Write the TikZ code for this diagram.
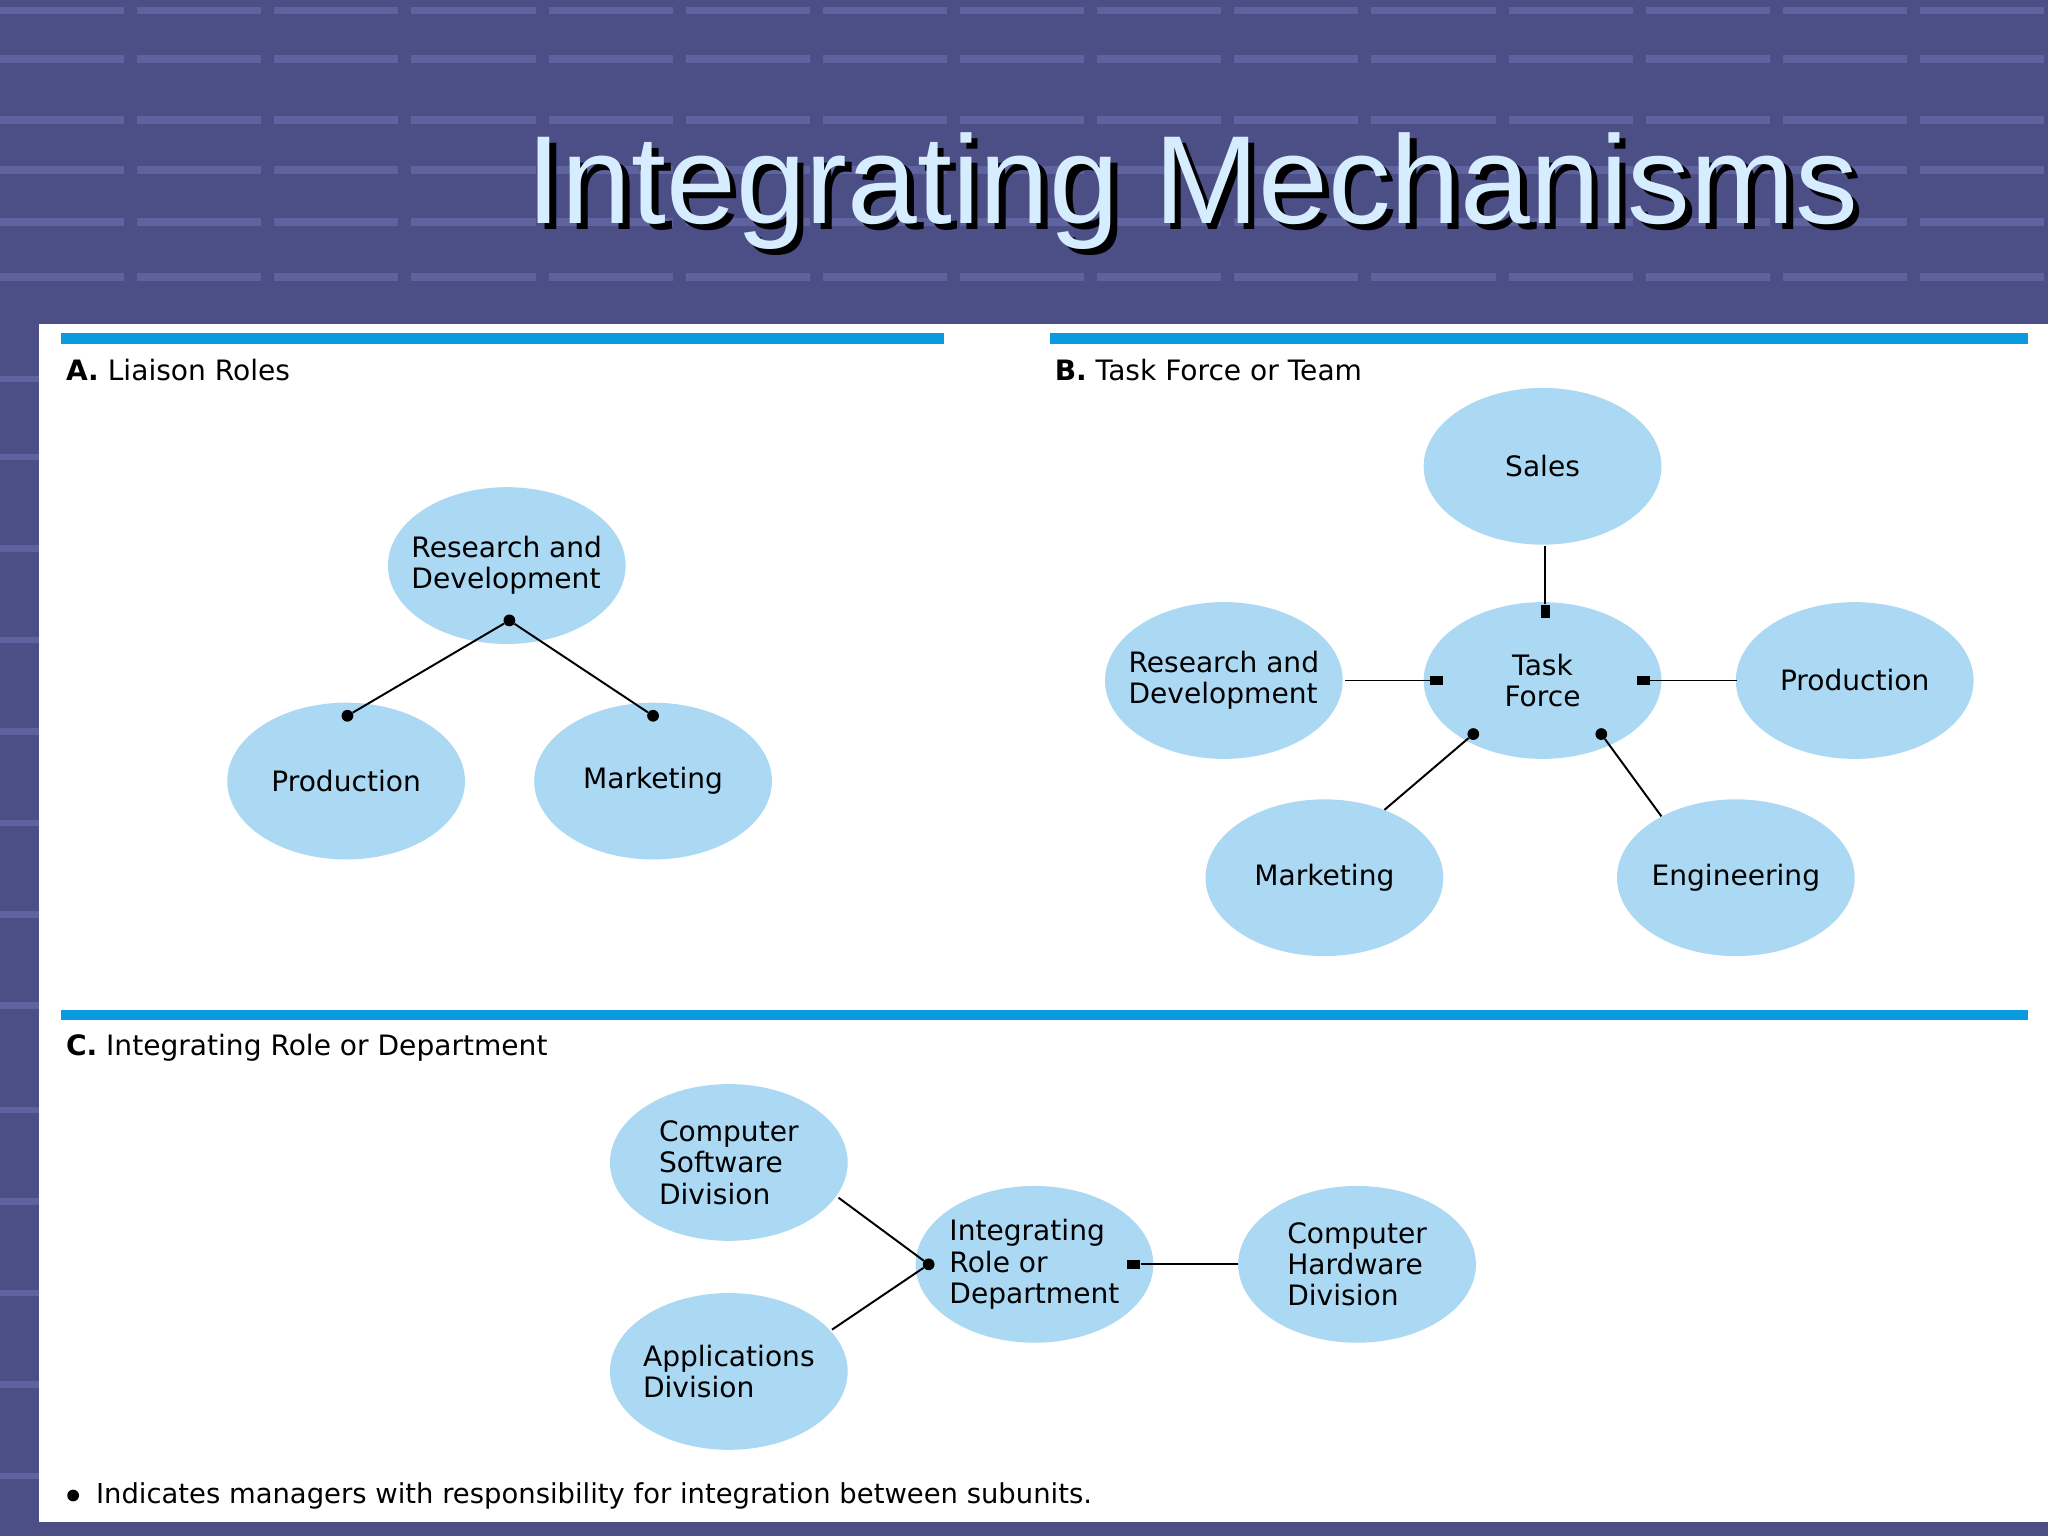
\documentclass[tikz,border=0pt]{standalone}
\usepackage{fontspec}
\setmainfont{DejaVu Sans}
\newfontfamily\titlefont{Liberation Sans}
\begin{document}
\begin{tikzpicture}[x=1pt,y=-1pt,
  ell/.style={ellipse,fill=bub,minimum width=182pt,minimum height=120pt,inner sep=0pt,inner xsep=-14pt,align=left,font=\fontsize{21.5}{24}\selectfont},
  lab/.style={anchor=west,font=\fontsize{21.5}{24}\selectfont},
  bar/.style={line width=8pt,draw=barblue},
  con/.style={line width=1.5pt},
  dot/.style={circle,fill=black,inner sep=0pt,minimum size=9pt},
  sq/.style={rectangle,fill=black,inner sep=0pt,minimum width=10pt,minimum height=7pt}]
\usetikzlibrary{shapes.geometric}
\definecolor{bg}{HTML}{4B4F86}
\definecolor{bgl}{HTML}{5E63A0}
\definecolor{bub}{HTML}{ABD8F3}
\definecolor{barblue}{HTML}{0A9AE0}
\definecolor{tcol}{HTML}{D6ECFF}
\useasboundingbox (0,0) rectangle (1568,1176);
\fill[bg] (0,0) rectangle (1568,1176);
\foreach \y in {8,45,92,130,170,212}
  \draw[bgl,line width=6pt,dash pattern=on 95pt off 10pt] (0,\y) -- (1568,\y);
\foreach \y in {290,350,420,490,560,630,700,770,850,920,990,1060,1130}
  \draw[bgl,line width=5pt] (0,\y) -- (30,\y);
\node[font=\titlefont\fontsize{96}{100}\selectfont,text=black] at (918,151) {Integrating Mechanisms};
\node[font=\titlefont\fontsize{96}{100}\selectfont,text=tcol] (title) at (913,146) {Integrating Mechanisms};
\fill[white] (30,248) rectangle (1568,1165);
\draw[bar] (47,259) -- (723,259);
\draw[bar] (804,259) -- (1553,259);
\draw[bar] (47,777) -- (1553,777);
\node[lab] (la) at (47,283) {\textbf{A.}\ Liaison Roles};
\node[lab] (lb) at (804,283) {\textbf{B.}\ Task Force or Team};
\node[lab] (lc) at (47,802) {\textbf{C.}\ Integrating Role or Department};
% A
\node[ell] (ard) at (388,433) {Research and\\Development};
\node[ell] (ap) at (265,598) {Production};
\node[ell] (am) at (500,598) {Marketing};
\node[dot] (d1) at (390,475) {};
\node[dot] (d2) at (266,548) {};
\node[dot] (d3) at (500,548) {};
\draw[con] (d1) -- (d2); \draw[con] (d1) -- (d3);
% B
\node[ell] (bs) at (1181,357) {Sales};
\node[ell,align=center] (bt) at (1181,521) {Task\\Force};
\node[ell] (brd) at (937,521) {Research and\\Development};
\node[ell] (bp) at (1420,521) {Production};
\node[ell] (bm) at (1014,672) {Marketing};
\node[ell] (be) at (1329,672) {Engineering};
\node[sq,minimum width=7pt,minimum height=10pt] (s1) at (1183,468) {};
\node[sq] (s2) at (1100,521) {};
\node[sq] (s3) at (1258,521) {};
\node[dot] (s4) at (1128,562) {};
\node[dot] (s5) at (1226,562) {};
\coordinate (c1) at (1183,418); \coordinate (c2) at (1030,521);
\coordinate (c3) at (1330,521); \coordinate (c4) at (1060,620);
\coordinate (c5) at (1272,625);
\draw[con] (c1) -- (s1); \draw[con] (c2) -- (s2); \draw[con] (c3) -- (s3);
\draw[con] (c4) -- (s4); \draw[con] (c5) -- (s5);
% C
\node[ell] (ccs) at (558,890) {Computer\\Software\\Division};
\node[ell] (cir) at (792,968) {Integrating\\Role or\\Department};
\node[ell] (chd) at (1039,968) {Computer\\Hardware\\Division};
\node[ell] (cad) at (558,1050) {Applications\\Division};
\node[dot] (cd) at (711,968) {};
\node[sq] (cs) at (868,968) {};
\coordinate (e1) at (642,917); \coordinate (e2) at (637,1018); \coordinate (e3) at (948,968);
\draw[con] (e1) -- (cd); \draw[con] (e2) -- (cd); \draw[con] (e3) -- (cs);
\node[dot] (fb) at (56,1145) {};
\node[lab,font=\fontsize{21}{24}\selectfont] (fn) at (70,1145) {Indicates managers with responsibility for integration between subunits.};
\end{tikzpicture}
\end{document}
